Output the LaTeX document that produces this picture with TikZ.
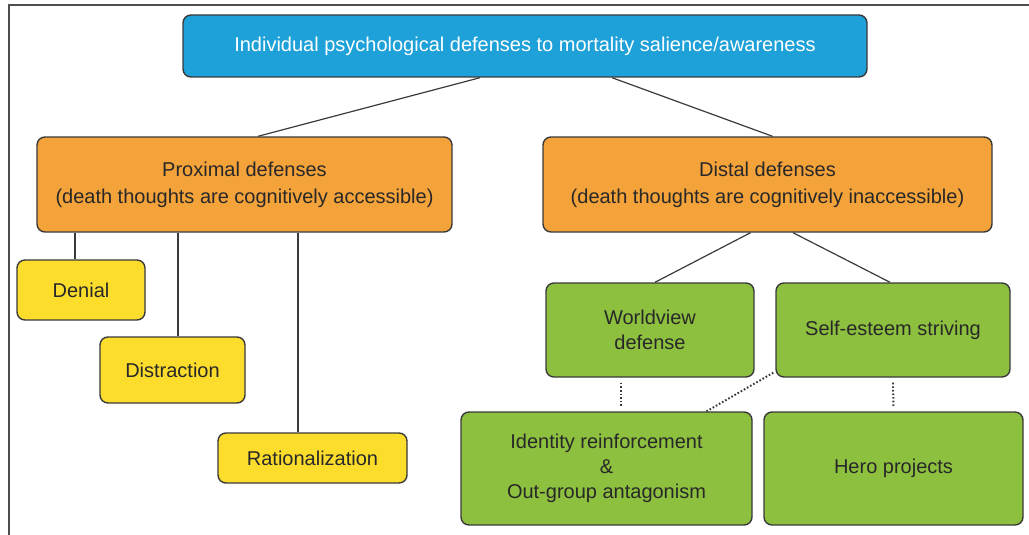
\documentclass[tikz,border=0pt]{standalone}
\usepackage{fontspec}
\setmainfont{Liberation Sans}

\definecolor{topblue}{RGB}{29,161,216}
\definecolor{proxorange}{RGB}{244,162,58}
\definecolor{defyellow}{RGB}{252,221,44}
\definecolor{distgreen}{RGB}{141,192,63}
\definecolor{boxline}{RGB}{58,58,58}
\definecolor{boxtext}{RGB}{40,40,40}

\begin{document}
\begin{tikzpicture}
[
	x=1pt,y=-1pt,
	box/.style={draw=boxline,line width=1.4pt,rounded corners=8pt,align=center,inner sep=0pt,text=boxtext,font=\fontsize{20}{25}\selectfont},
	bluebox/.style={box,fill=topblue,text=white},
	orangebox/.style={box,fill=proxorange,font=\fontsize{20}{27}\selectfont},
	yellowbox/.style={box,fill=defyellow},
	greenbox/.style={box,fill=distgreen},
	link/.style={draw=boxline,line width=1.2pt},
	dotlink/.style={draw=boxline,line width=2pt,dash pattern=on 1.6pt off 2pt}
]

	\useasboundingbox (0,0) rectangle (1029,535);

	% frame
	\draw[line width=2pt,draw=boxline!90] (9,535) -- (9,5) -- (1029,5);

	% top
	\node[bluebox,minimum width=684pt,minimum height=62pt] (top) at (525,46)
		{Individual psychological defenses to mortality salience/awareness};

	% second row
	\node[orangebox,minimum width=415pt,minimum height=95pt] (prox) at (244.5,184.5)
		{Proximal defenses\\(death thoughts are cognitively accessible)};
	\node[orangebox,minimum width=449pt,minimum height=95pt] (dist) at (767.5,184.5)
		{Distal defenses\\(death thoughts are cognitively inaccessible)};

	% proximal defenses
	\node[yellowbox,minimum width=128pt,minimum height=60pt] (denial) at (81,290) {Denial};
	\node[yellowbox,minimum width=145pt,minimum height=66pt] (distract) at (172.5,370) {Distraction};
	\node[yellowbox,minimum width=189pt,minimum height=50pt] (ration) at (312.5,458) {Rationalization};

	% distal defenses
	\node[greenbox,minimum width=208pt,minimum height=94pt] (world) at (650,330) {Worldview\\defense};
	\node[greenbox,minimum width=234pt,minimum height=94pt] (self) at (893,330) {Self-esteem striving};
	\node[greenbox,minimum width=291pt,minimum height=113pt] (ident) at (606.5,468.5)
		{Identity reinforcement\\\&\\Out-group antagonism};
	\node[greenbox,minimum width=259pt,minimum height=113pt] (hero) at (893.5,468.5) {Hero projects};

	% connectors
	\draw[link] ([xshift=-45pt]top.south) -- ([xshift=13.5pt]prox.north);
	\draw[link] ([xshift=87pt]top.south) -- ([xshift=5pt]dist.north);

	\draw[link] ([xshift=-6pt]denial.north |- prox.south) -- ([xshift=-6pt]denial.north);
	\draw[link] ([xshift=5.5pt]distract.north |- prox.south) -- ([xshift=5.5pt]distract.north);
	\draw[link] ([xshift=-14.5pt]ration.north |- prox.south) -- ([xshift=-14.5pt]ration.north);

	\draw[link] ([xshift=-17pt]dist.south) -- ([xshift=5pt]world.north);
	\draw[link] ([xshift=25.5pt]dist.south) -- ([xshift=-3pt]self.north);

	\draw[dotlink] ([xshift=-29pt,yshift=-5pt]world.south) -- ([xshift=14.5pt,yshift=4pt]ident.north);
	\draw[dotlink] ([xshift=-2pt,yshift=5pt]self.south west) -- ([xshift=100pt]ident.north);
	\draw[dotlink] ([yshift=-5pt]self.south) -- ([yshift=4pt]hero.north);

\end{tikzpicture}
\end{document}
